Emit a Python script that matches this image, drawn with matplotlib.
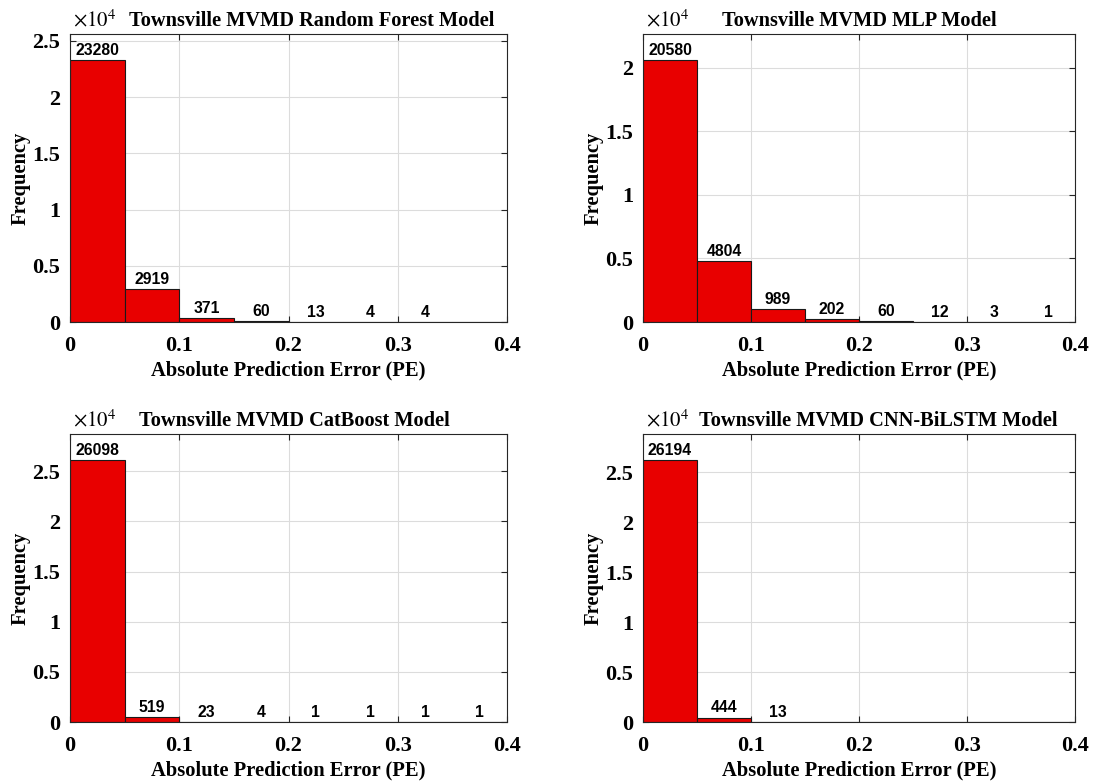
import numpy as np
import matplotlib
matplotlib.use("Agg")
import matplotlib.pyplot as plt
from matplotlib.ticker import FuncFormatter, MultipleLocator

plt.rcParams['font.family'] = ['Liberation Serif', 'DejaVu Serif']
plt.rcParams['mathtext.fontset'] = 'stix'

# histogram bin edges (absolute prediction error)
bin_edges = [0, 0.05, 0.10, 0.15, 0.20, 0.25, 0.30, 0.35, 0.40]

# counts per bin for each model
rf_counts = [23280, 2919, 371, 60, 13, 4, 4, 0]
mlp_counts = [20580, 4804, 989, 202, 60, 12, 3, 1]
cat_counts = [26098, 519, 23, 4, 1, 1, 1, 1]
cnn_counts = [26194, 444, 13, 0, 0, 0, 0, 0]

titles = [
    "Townsville MVMD Random Forest Model",
    "Townsville MVMD MLP Model",
    "Townsville MVMD CatBoost Model",
    "Townsville MVMD CNN-BiLSTM Model",
]
all_counts = [rf_counts, mlp_counts, cat_counts, cnn_counts]
title_x = [0.552, 0.5, 0.513, 0.545]

# axes rectangles in pixels: left, top, width, height
W, H = 1099, 782
rects = [(70, 34, 437, 288), (643, 34, 432, 288),
         (70, 434, 437, 288), (643, 434, 432, 288)]

fig = plt.figure(figsize=(W / 100, H / 100), dpi=100)

for rect, counts, title, tx in zip(rects, all_counts, titles, title_x):
    l, t, w, h = rect
    ax = fig.add_axes([l / W, 1 - (t + h) / H, w / W, h / H])
    widths = np.diff(bin_edges)
    ax.bar(bin_edges[:-1], counts, width=widths, align='edge',
           color='#e80000', edgecolor='#1a1a1a', linewidth=0.8, zorder=2)
    centers = np.array(bin_edges[:-1]) + widths / 2
    for c, v in zip(centers, counts):
        if v > 0:
            ax.text(c, v + max(counts) * 0.008, str(v), ha='center', va='bottom',
                    family='Liberation Sans', fontweight='bold', fontsize=11.3,
                    zorder=3)
    ax.set_xlim(0, 0.4)
    ax.set_ylim(0, max(counts) * 1.1)
    ax.xaxis.set_major_locator(MultipleLocator(0.1))
    ax.yaxis.set_major_locator(MultipleLocator(5000))
    ax.xaxis.set_major_formatter(FuncFormatter(lambda x, p: f"{x:g}"))
    ax.yaxis.set_major_formatter(FuncFormatter(lambda y, p: f"{y / 1e4:g}"))
    ax.grid(True, color='#dcdcdc', linewidth=0.8, zorder=0)
    ax.set_axisbelow(True)
    ax.tick_params(direction='in', length=4, width=0.8, top=True, right=True,
                   labelsize=16, color='#262626')
    ax.tick_params(axis='x', pad=10)
    ax.tick_params(axis='y', pad=7)
    for lab in ax.get_xticklabels() + ax.get_yticklabels():
        lab.set_fontweight('bold')
    for sp in ax.spines.values():
        sp.set_color('#262626')
        sp.set_linewidth(0.8)
    ax.set_xlabel("Absolute Prediction Error (PE)", fontsize=14.8,
                  fontweight='bold', labelpad=3)
    ax.set_ylabel("Frequency", fontsize=14.8, fontweight='bold')
    ax.yaxis.set_label_coords(-39 / w, 0.5)
    ax.text(tx, 1.01, title, transform=ax.transAxes, ha='center',
            va='bottom', fontsize=14.7, fontweight='bold')
    ax.text(0.006, 1.008, r"$\times10^{4}$", transform=ax.transAxes,
            ha='left', va='bottom', fontsize=15)

fig.savefig("out.png", dpi=100)
